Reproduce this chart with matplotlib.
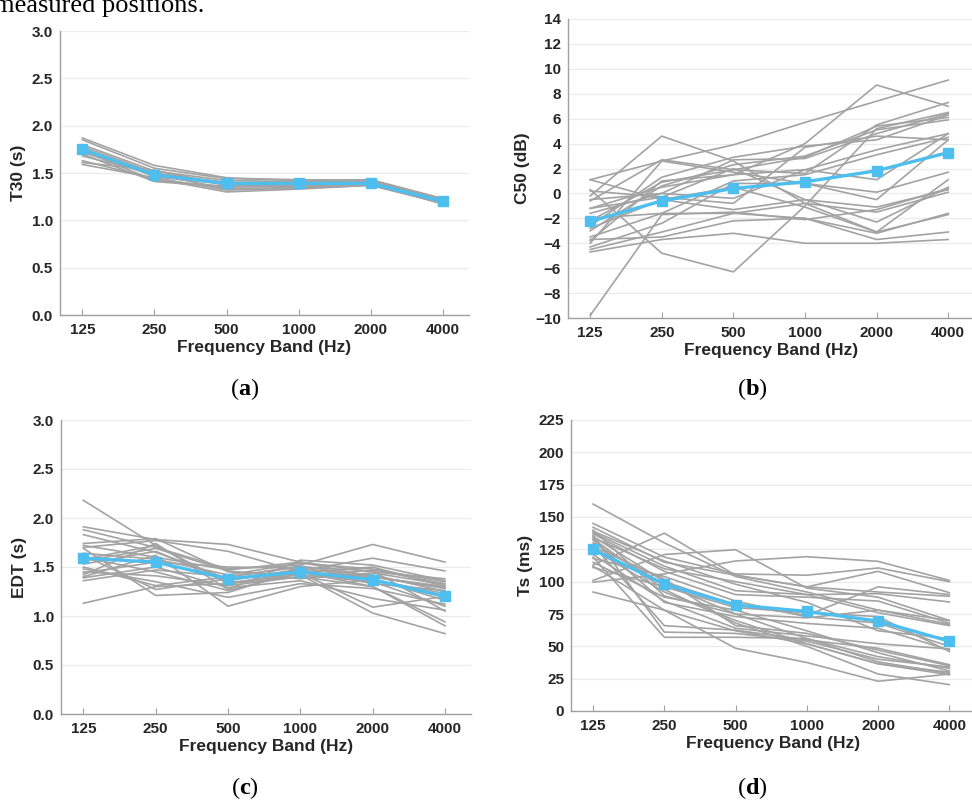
import numpy as np
import matplotlib
matplotlib.use("Agg")
import matplotlib.pyplot as plt

plt.rcParams['font.family'] = ['Liberation Sans', 'DejaVu Sans']
plt.rcParams['mathtext.fontset'] = 'custom'
plt.rcParams['mathtext.rm'] = 'Liberation Serif'
plt.rcParams['mathtext.bf'] = 'Liberation Serif:bold'

bands = ['125', '250', '500', '1000', '2000', '4000']

# T30 per receiver position (s)
t30_pos = [
    [1.87, 1.58, 1.45, 1.42, 1.43, 1.23],
    [1.85, 1.55, 1.44, 1.43, 1.42, 1.22],
    [1.80, 1.52, 1.42, 1.41, 1.42, 1.21],
    [1.78, 1.50, 1.40, 1.40, 1.41, 1.20],
    [1.76, 1.46, 1.38, 1.39, 1.40, 1.20],
    [1.74, 1.42, 1.36, 1.38, 1.39, 1.19],
    [1.72, 1.47, 1.39, 1.40, 1.41, 1.21],
    [1.70, 1.41, 1.35, 1.36, 1.38, 1.18],
    [1.68, 1.49, 1.33, 1.35, 1.38, 1.19],
    [1.63, 1.44, 1.30, 1.33, 1.37, 1.18],
    [1.61, 1.53, 1.37, 1.37, 1.39, 1.17],
    [1.59, 1.45, 1.32, 1.34, 1.37, 1.18],
]
t30_mean = [1.75, 1.48, 1.39, 1.39, 1.39, 1.20]

# C50 per receiver position (dB)
c50_pos = [
    [1.1, 2.6, 3.9, 5.7, 7.4, 9.1],
    [-0.2, 4.6, 2.6, -0.8, -3.1, -1.7],
    [-9.8, -1.7, -1.5, -2.1, -1.3, 0.4],
    [0.3, -4.8, -6.3, -1.0, 5.2, 6.5],
    [-4.7, -3.7, -3.2, -4.0, -4.0, -3.7],
    [-3.7, -3.5, -2.2, -2.0, -3.7, -3.1],
    [-1.2, 0.5, 1.5, 4.0, 8.7, 7.0],
    [-0.6, 2.7, 1.9, 1.6, 5.5, 7.3],
    [-2.6, 1.3, 2.9, 3.8, 4.3, 6.3],
    [-3.0, 0.6, 2.3, 3.0, 5.1, 5.9],
    [-1.6, 0.0, 2.7, 2.8, 4.8, 6.4],
    [-0.5, 0.0, -0.4, 1.9, 3.5, 4.8],
    [-3.5, -1.6, 1.0, 1.5, 3.1, 4.5],
    [1.1, -0.5, -1.3, -0.5, -1.1, 0.3],
    [-4.3, -2.4, 0.8, 0.8, 0.1, 1.7],
    [-1.2, -0.3, -0.8, 3.7, 4.6, 4.3],
    [-4.5, -3.1, -1.6, -0.8, -1.5, 0.1],
    [-2.0, -1.6, -1.6, -2.0, -3.2, -1.6],
    [-3.8, 1.0, 1.5, 1.9, 1.1, 4.8],
    [0.2, -0.3, 2.0, -0.5, -2.3, 0.5],
    [-2.8, -0.5, 0.5, -1.1, -3.1, 1.1],
    [-4.0, 2.6, 1.7, 0.8, -0.5, 4.3],
    [-2.2, 0.9, 1.9, 2.9, 5.4, 6.1],
]
c50_mean = [-2.25, -0.6, 0.4, 0.93, 1.82, 3.28]

# EDT per receiver position (s)
edt_pos = [
    [2.18, 1.72, 1.33, 1.45, 1.40, 1.30],
    [1.91, 1.78, 1.73, 1.55, 1.40, 1.28],
    [1.88, 1.70, 1.48, 1.52, 1.73, 1.55],
    [1.83, 1.65, 1.38, 1.46, 1.59, 1.46],
    [1.13, 1.30, 1.33, 1.40, 1.47, 1.33],
    [1.74, 1.79, 1.45, 1.42, 1.03, 0.82],
    [1.70, 1.77, 1.66, 1.45, 1.30, 0.94],
    [1.42, 1.74, 1.27, 1.57, 1.52, 1.36],
    [1.40, 1.62, 1.10, 1.30, 1.37, 1.23],
    [1.45, 1.41, 1.31, 1.40, 1.30, 0.90],
    [1.69, 1.21, 1.24, 1.47, 1.33, 1.26],
    [1.50, 1.31, 1.40, 1.51, 1.40, 1.29],
    [1.56, 1.69, 1.46, 1.38, 1.44, 1.32],
    [1.60, 1.45, 1.26, 1.44, 1.09, 1.20],
    [1.64, 1.58, 1.42, 1.54, 1.48, 1.35],
    [1.39, 1.50, 1.29, 1.36, 1.18, 1.06],
    [1.53, 1.66, 1.36, 1.48, 1.42, 1.25],
    [1.48, 1.35, 1.19, 1.33, 1.28, 1.12],
    [1.72, 1.60, 1.47, 1.55, 1.45, 1.38],
    [1.58, 1.72, 1.34, 1.42, 1.35, 1.10],
    [1.44, 1.55, 1.50, 1.49, 1.38, 1.16],
    [1.62, 1.27, 1.38, 1.44, 1.50, 1.30],
    [1.36, 1.47, 1.40, 1.50, 1.46, 1.05],
]
edt_mean = [1.59, 1.55, 1.38, 1.45, 1.37, 1.20]

# Ts per receiver position (ms)
ts_pos = [
    [160, 130, 104, 92, 78, 70],
    [92, 78, 62, 52, 36.5, 30],
    [113, 137.5, 105, 96, 92, 88.7],
    [101, 121, 124.7, 95, 88, 70],
    [99.6, 106, 116, 119.3, 115.7, 101],
    [145, 119, 106, 105, 110.6, 100],
    [142, 115, 105, 96, 108, 91.5],
    [138, 112, 93, 90, 90.7, 84.3],
    [135, 100, 82, 74, 96, 90],
    [140, 89, 75, 72, 78, 67],
    [132, 84, 73, 67.7, 64, 47.2],
    [128, 66, 62.5, 55, 48.5, 35.8],
    [136, 61, 60, 54, 40, 34],
    [119, 57, 57, 56, 42, 33],
    [130, 98, 75, 56, 38, 29],
    [125, 92, 70, 52, 36.5, 28],
    [112, 78, 48.5, 37.5, 23, 28.5],
    [133, 94, 68, 50, 28.6, 20.4],
    [118, 104, 85, 72.8, 68, 50],
    [111, 96, 80, 76, 73, 46],
    [137, 108, 90, 88, 85, 68],
    [115, 88, 78, 62, 45, 31],
    [127, 102, 66, 60, 47, 35],
    [134, 110, 100, 90, 76, 66],
    [121, 85, 64, 58, 52, 48],
    [139, 116, 98, 84, 62, 56],
]
ts_mean = [125, 98, 82, 77, 69.5, 54]

W, H = 972, 801
fig = plt.figure(figsize=(W / 100, H / 100), dpi=100)

gray = '#a3a3a3'
blue = '#4DBEEE'
txt = '#262626'


def make_axes(left, right, top, bottom):
    return fig.add_axes([left / W, 1 - bottom / H, (right - left) / W, (bottom - top) / H])


def panel(ax, pos, mean, ylim, yticks, fmt, ylabel):
    x = np.arange(len(bands))
    for row in pos:
        ax.plot(x, row, color=gray, lw=1.2, zorder=2)
    ax.plot(x, mean, color=blue, lw=2.4, marker='s', ms=6.5, zorder=3)
    ax.set_xlim(-0.31, 5.36)
    ax.set_ylim(*ylim)
    ax.set_xticks(x)
    ax.set_xticklabels(bands)
    ax.set_yticks(yticks)
    ax.set_yticklabels([fmt.format(v).replace('-', '\u2212') for v in yticks])
    ax.grid(axis='y', color='#ebebeb', lw=0.9, zorder=0)
    ax.set_axisbelow(True)
    for s in ['top', 'right']:
        ax.spines[s].set_visible(False)
    for s in ['left', 'bottom']:
        ax.spines[s].set_color('#a0a0a0')
        ax.spines[s].set_linewidth(1.0)
    ax.tick_params(axis='x', direction='in', length=4, color='#a0a0a0', pad=6,
                   labelsize=11, labelcolor=txt)
    ax.tick_params(axis='y', length=0, pad=5, labelsize=11, labelcolor=txt)
    for lab in ax.get_xticklabels() + ax.get_yticklabels():
        lab.set_fontweight('bold')
    ax.set_xlabel('Frequency Band (Hz)', fontsize=12.5, fontweight='bold', color=txt, labelpad=2)
    ax.set_ylabel(ylabel, fontsize=12.5, fontweight='bold', color=txt, labelpad=4)


ax_a = make_axes(60, 469, 31, 315)
panel(ax_a, t30_pos, t30_mean, (0, 3), np.arange(0, 3.01, 0.5), '{:.1f}', 'T30 (s)')

ax_b = make_axes(568, 974, 19, 318)
panel(ax_b, c50_pos, c50_mean, (-10, 14), np.arange(-10, 15, 2), '{:d}', 'C50 (dB)')

ax_c = make_axes(61, 471, 420, 714)
panel(ax_c, edt_pos, edt_mean, (0, 3), np.arange(0, 3.01, 0.5), '{:.1f}', 'EDT (s)')

ax_d = make_axes(571, 975, 420, 711)
panel(ax_d, ts_pos, ts_mean, (0, 225), np.arange(0, 226, 25), '{:d}', 'Ts (ms)')

# sub-figure captions
for label, (cx, cy) in zip('abcd', [(245, 389), (752, 389), (245, 788), (752, 788)]):
    fig.text(cx / W, 1 - cy / H, r'$(\mathbf{%s})$' % label, fontsize=17.5,
             ha='center', va='center', color='black')

fig.text(-0.006, 1 - 12 / H, 'measured positions.', family='Liberation Serif',
         fontsize=19, va='baseline', ha='left', color='black')

fig.savefig('out.png', dpi=100)
